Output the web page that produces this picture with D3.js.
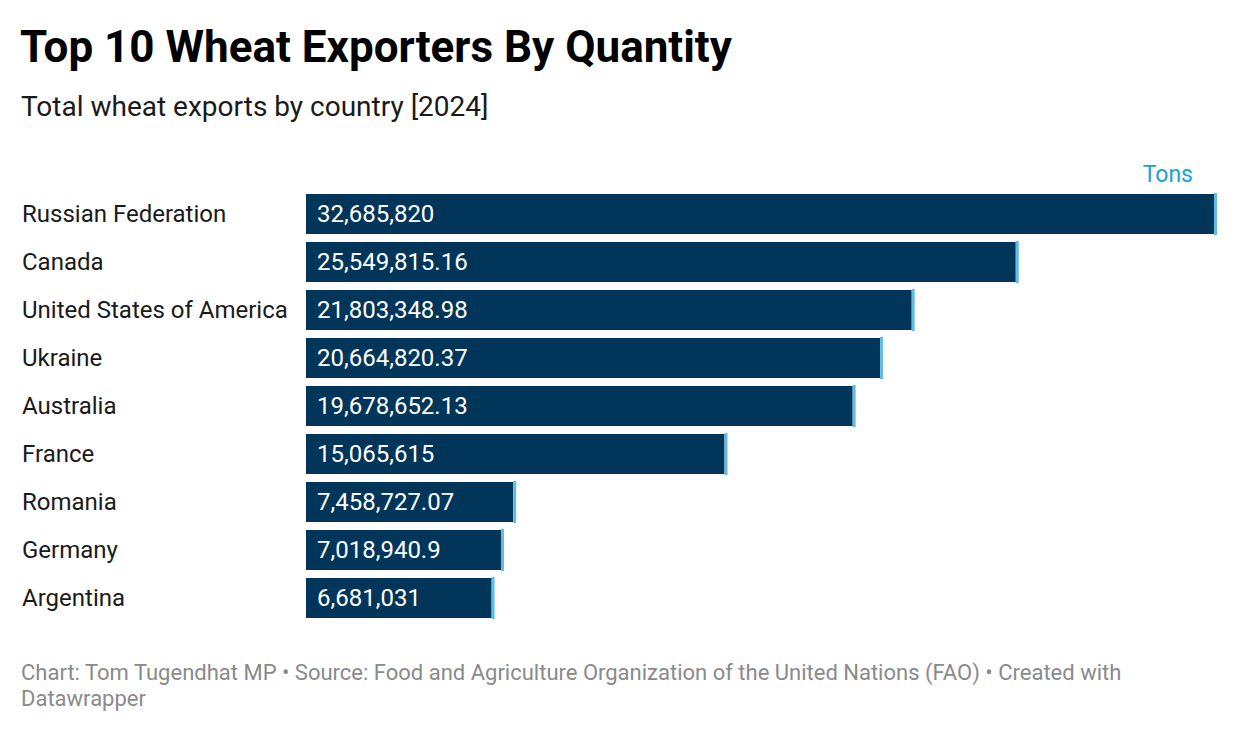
<!DOCTYPE html>
<html>
<head>
<meta charset="utf-8">
<title>Top 10 Wheat Exporters By Quantity</title>
<style>
  body { margin: 0; background: #fff; font-family: Roboto, "Noto Sans", sans-serif; }
  svg { display: block; }
</style>
</head>
<body>
<svg id="chart" width="1240" height="732"></svg>
<script src="https://d3js.org/d3.v7.min.js"></script>
<script>
// data
var countries = ["Russian Federation", "Canada", "United States of America", "Ukraine",
  "Australia", "France", "Romania", "Germany", "Argentina"];
var exports = [32685820, 25549815.16, 21803348.98, 20664820.37, 19678652.13,
  15065615, 7458727.07, 7018940.9, 6681031];

var svg = d3.select("#chart");

// title block
svg.append("text").attr("x", 20).attr("y", 62)
  .attr("font-size", 44).attr("font-weight", 700).attr("fill", "#000")
  .text("Top 10 Wheat Exporters By Quantity");
svg.append("text").attr("x", 21).attr("y", 116)
  .attr("font-size", 28).attr("fill", "#1a1a1a")
  .text("Total wheat exports by country [2024]");

var x = d3.scaleLinear().domain([0, d3.max(exports)]).range([306, 1214]);
// band step 48, bar 40
var y = d3.scaleBand().domain(countries)
  .range([194, 194 + 48 * countries.length - 8]).paddingInner(8 / 48).paddingOuter(0);

var rows = svg.selectAll("g.row")
  .data(countries)
  .enter().append("g").attr("class", "row");

rows.append("rect")
  .attr("x", x(0))
  .attr("y", function(d) { return y(d); })
  .attr("width", function(d, i) { return x(exports[i]) - x(0); })
  .attr("height", y.bandwidth())
  .attr("fill", "#01365a");

// light blue end cap
rows.append("rect")
  .attr("x", function(d, i) { return x(exports[i]); })
  .attr("y", function(d) { return y(d) - 1; })
  .attr("width", 3)
  .attr("height", y.bandwidth() + 2)
  .attr("fill", "#62bde3");

rows.append("text")
  .attr("x", 22)
  .attr("y", function(d) { return y(d) + y.bandwidth() / 2; })
  .attr("dy", "0.35em")
  .attr("font-size", 24).attr("fill", "#1a1a1a")
  .text(function(d) { return d; });

var fmt = d3.format(",");
rows.append("text")
  .attr("x", x(0) + 11)
  .attr("y", function(d) { return y(d) + y.bandwidth() / 2; })
  .attr("dy", "0.35em")
  .attr("font-size", 24).attr("fill", "#fff")
  .text(function(d, i) { return fmt(exports[i]); });

svg.append("text").attr("x", 1193).attr("y", 182)
  .attr("text-anchor", "end")
  .attr("font-size", 23).attr("fill", "#1d9fd8")
  .text("Tons");

// footer
svg.append("text").attr("x", 21).attr("y", 680)
  .attr("font-size", 22).attr("fill", "#8a8a8a")
  .text("Chart: Tom Tugendhat MP \u2022 Source: Food and Agriculture Organization of the United Nations (FAO) \u2022 Created with");
svg.append("text").attr("x", 21).attr("y", 706)
  .attr("font-size", 22).attr("fill", "#8a8a8a")
  .text("Datawrapper");
</script>
</body>
</html>
